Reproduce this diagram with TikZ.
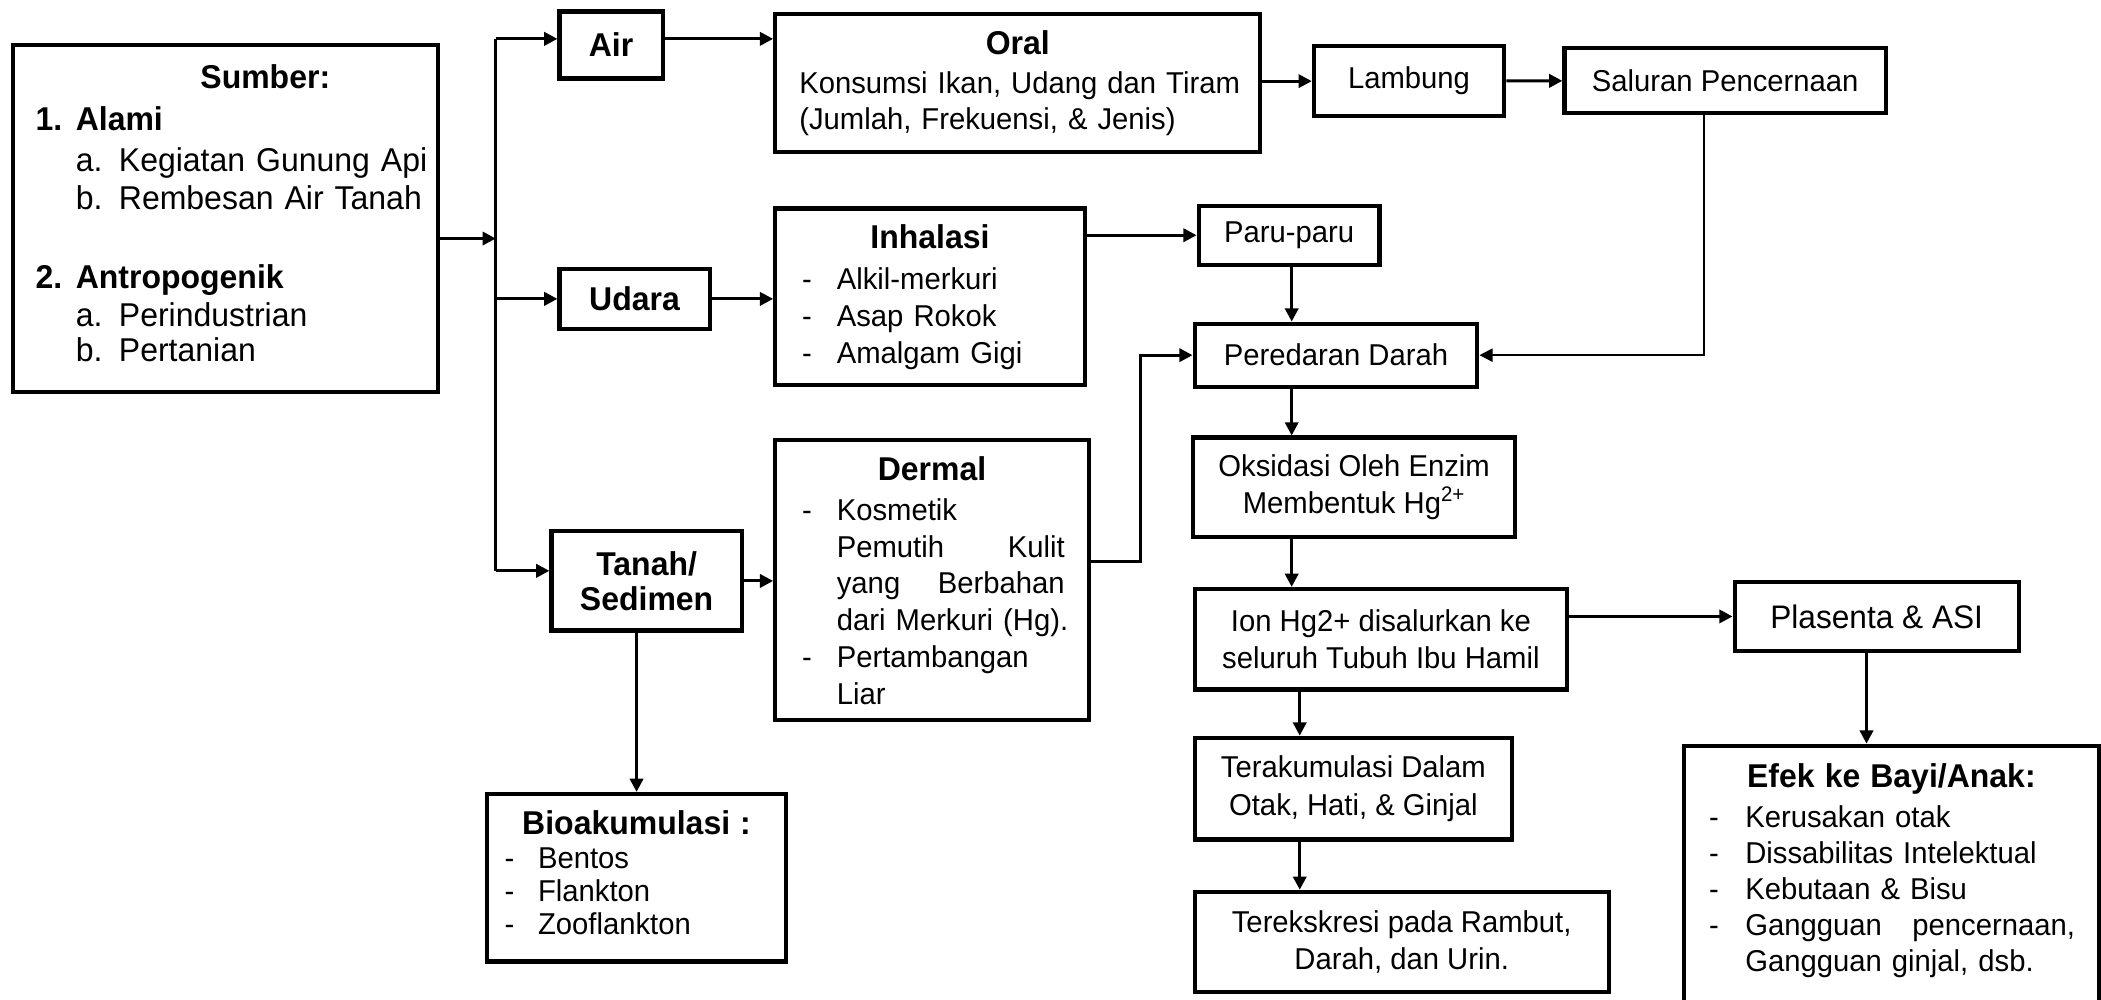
\documentclass[tikz,border=0pt]{standalone}
\usepackage{fontspec}
\setmainfont[FakeStretch=0.97]{Liberation Sans}
\usetikzlibrary{arrows.meta, positioning, calc}

\newcommand{\dashitem}[2][0.65cm]{\makebox[#1][l]{-}#2}
\newcommand{\boxtitle}[1]{{\fontsize{17.5pt}{20pt}\selectfont\bfseries #1}}

\begin{document}
\begin{tikzpicture}[
    x=0.025cm, y=-0.025cm,
    font=\fontsize{16pt}{19.5pt}\selectfont,
    block/.style={rectangle, draw, line width=2.2pt, anchor=north west, inner sep=0pt, align=center},
    listbox/.style={block, align=left, inner xsep=0.1cm},
    media/.style={block, font=\fontsize{17.5pt}{18.5pt}\selectfont\bfseries},
    arrow/.style={-{Triangle[length=7pt, width=7pt]}, line width=1.6pt},
    link/.style={line width=1.6pt}
]
\useasboundingbox (0,0) rectangle (1568,746);

% Sumber dan media
\node[listbox, minimum width=7.925cm, minimum height=6.475cm, text width=7.725cm,
      font=\fontsize{17.5pt}{19.5pt}\selectfont] (sumber) at (8,32) {
    \hspace*{3.4cm}\textbf{Sumber:}\\[2.6pt]
    \hspace*{0.325cm}\textbf{\makebox[0.75cm][l]{1.}Alami}\\[2.6pt]
    \hspace*{1.075cm}a. Kegiatan Gunung Api\\[0.4pt]
    \hspace*{1.075cm}b. Rembesan Air Tanah\\[22.5pt]
    \hspace*{0.325cm}\textbf{\makebox[0.75cm][l]{2.}Antropogenik}\\[1pt]
    \hspace*{1.075cm}a. Perindustrian\\[-1pt]
    \hspace*{1.075cm}b. Pertanian\\[-0.486cm]\mbox{}};

\node[media, minimum width=1.925cm, minimum height=1.25cm] (air) at (416,7) {Air};
\node[media, minimum width=2.8cm, minimum height=1.125cm] (udara) at (416,199) {Udara};
\node[media, minimum width=3.55cm, minimum height=1.85cm] (tanah) at (410,395) {Tanah/\\Sedimen};

% Jalur paparan
\node[listbox, minimum width=9.05cm, minimum height=2.575cm, text width=8.85cm,
      font=\fontsize{16pt}{19.2pt}\selectfont] (oral) at (577,9) {
    \makebox[\linewidth]{\boxtitle{Oral}}\\[1.4pt]
    \hspace*{0.35cm}Konsumsi Ikan, Udang dan Tiram\\
    \hspace*{0.35cm}(Jumlah, Frekuensi, \& Jenis)};
\node[listbox, minimum width=5.775cm, minimum height=3.3cm, text width=5.575cm] (inhalasi) at (577,154) {
    \makebox[\linewidth]{\boxtitle{Inhalasi}}\\[2.5pt]
    \hspace*{0.4cm}\dashitem{Alkil-merkuri}\\
    \hspace*{0.4cm}\dashitem{Asap Rokok}\\
    \hspace*{0.4cm}\dashitem{Amalgam Gigi}};
\node[listbox, minimum width=5.85cm, minimum height=5.225cm, text width=5.65cm] (dermal) at (577,327) {
    \makebox[\linewidth]{\boxtitle{Dermal}}\\[1.8pt]
    \hspace*{0.4cm}\dashitem{Kosmetik}\\
    \hspace*{1.05cm}\makebox[4.25cm][s]{Pemutih\hfill Kulit}\\
    \hspace*{1.05cm}\makebox[4.25cm][s]{yang\hfill Berbahan}\\
    \hspace*{1.05cm}dari Merkuri (Hg).\\
    \hspace*{0.4cm}\dashitem{Pertambangan}\\
    \hspace*{1.05cm}Liar};
\node[listbox, minimum width=5.575cm, minimum height=3.125cm, text width=5.375cm,
      font=\fontsize{16pt}{17.6pt}\selectfont] (bio) at (362,591) {
    \makebox[\linewidth]{\boxtitle{Bioakumulasi :}}\\[0.3pt]
    \hspace*{0.225cm}\dashitem[0.625cm]{Bentos}\\
    \hspace*{0.225cm}\dashitem[0.625cm]{Flankton}\\
    \hspace*{0.225cm}\dashitem[0.625cm]{Zooflankton}\\[-0.42cm]\mbox{}};

% Organ tubuh
\node[block, minimum width=3.55cm, minimum height=1.3cm] (lambung) at (979,33) {Lambung};
\node[block, minimum width=6cm, minimum height=1.225cm] (saluran) at (1166,34) {Saluran Pencernaan};
\node[block, minimum width=3.375cm, minimum height=1.1cm] (paru) at (893,152) {Paru-paru};
\node[block, minimum width=5.275cm, minimum height=1.175cm] (peredaran) at (890,240) {Peredaran Darah};
\node[block, minimum width=6cm, minimum height=1.85cm, font=\fontsize{16pt}{20pt}\selectfont] (oksidasi) at (889,325) {Oksidasi Oleh Enzim\\Membentuk Hg\textsuperscript{2+}};
\node[block, minimum width=6.95cm, minimum height=1.875cm, font=\fontsize{16pt}{20pt}\selectfont] (ion) at (890,438) {Ion Hg2+ disalurkan ke\\seluruh Tubuh Ibu Hamil};
\node[block, minimum width=5.925cm, minimum height=1.9cm, font=\fontsize{16pt}{20pt}\selectfont] (terak) at (890,549) {Terakumulasi Dalam\\Otak, Hati, \& Ginjal};
\node[block, minimum width=7.725cm, minimum height=1.875cm] (tereks) at (890,664) {Terekskresi pada Rambut,\\Darah, dan Urin.};
\node[block, minimum width=5.3cm, minimum height=1.275cm, font=\fontsize{17.3pt}{20pt}\selectfont] (plasenta) at (1293,433) {Plasenta \& ASI};
\node[listbox, minimum width=7.75cm, minimum height=5.325cm, text width=7.55cm,
      font=\fontsize{16pt}{19.2pt}\selectfont] (efek) at (1255,555) {
    \makebox[\linewidth]{\boxtitle{Efek ke Bayi/Anak:}}\\[2pt]
    \hspace*{0.375cm}\dashitem[0.675cm]{Kerusakan otak}\\
    \hspace*{0.375cm}\dashitem[0.675cm]{Dissabilitas Intelektual}\\
    \hspace*{0.375cm}\dashitem[0.675cm]{Kebutaan \& Bisu}\\
    \hspace*{0.375cm}\dashitem[0.675cm]{\makebox[6.15cm][s]{Gangguan\hfill pencernaan,}}\\
    \hspace*{1.05cm}Gangguan ginjal, dsb.\\[0.1cm]\mbox{}};

% Panah
\coordinate (split) at (370,178);
\coordinate (airin) at (370,29);
\coordinate (tanahin) at (370,426);
\coordinate (drop) at (1272,87);
\coordinate (bend) at (851,419);
\coordinate (colA) at (964,0);
\coordinate (colB) at (970,0);
\coordinate (fall) at (1393,0);

\draw[arrow] (sumber.east |- split) -- (split);
\draw[link] (airin) -- (tanahin);
\draw[arrow] (airin) -- (airin -| air.west);
\draw[arrow] (split |- udara) -- (udara);
\draw[arrow] (tanahin) -- (tanahin -| tanah.west);

\draw[arrow] (air.east |- airin) -- (airin -| oral.west);
\draw[arrow] (oral.east |- lambung) -- (lambung);
\draw[arrow] (lambung) -- (saluran);
\draw[arrow, line width=1.1pt] (saluran.south -| drop) |- (peredaran);

\draw[arrow] (udara) -- (udara -| inhalasi.west);
\draw[arrow] (inhalasi.east |- paru) -- (paru);
\draw[arrow] (paru.south -| colA) -- (peredaran.north -| colA);

\draw[arrow] (tanah) -- (tanah -| dermal.west);
\draw[arrow] (tanah.south -| bio) -- (bio);
\draw[arrow] (dermal.east |- bend) -- (bend) |- (peredaran);

\draw[arrow] (peredaran.south -| colA) -- (oksidasi.north -| colA);
\draw[arrow] (oksidasi.south -| colA) -- (ion.north -| colA);
\draw[arrow] (ion.south -| colB) -- (terak.north -| colB);
\draw[arrow] (terak.south -| colB) -- (tereks.north -| colB);
\draw[arrow] (ion.east |- plasenta) -- (plasenta);
\draw[arrow] (plasenta.south -| fall) -- (efek.north -| fall);

\end{tikzpicture}
\end{document}
